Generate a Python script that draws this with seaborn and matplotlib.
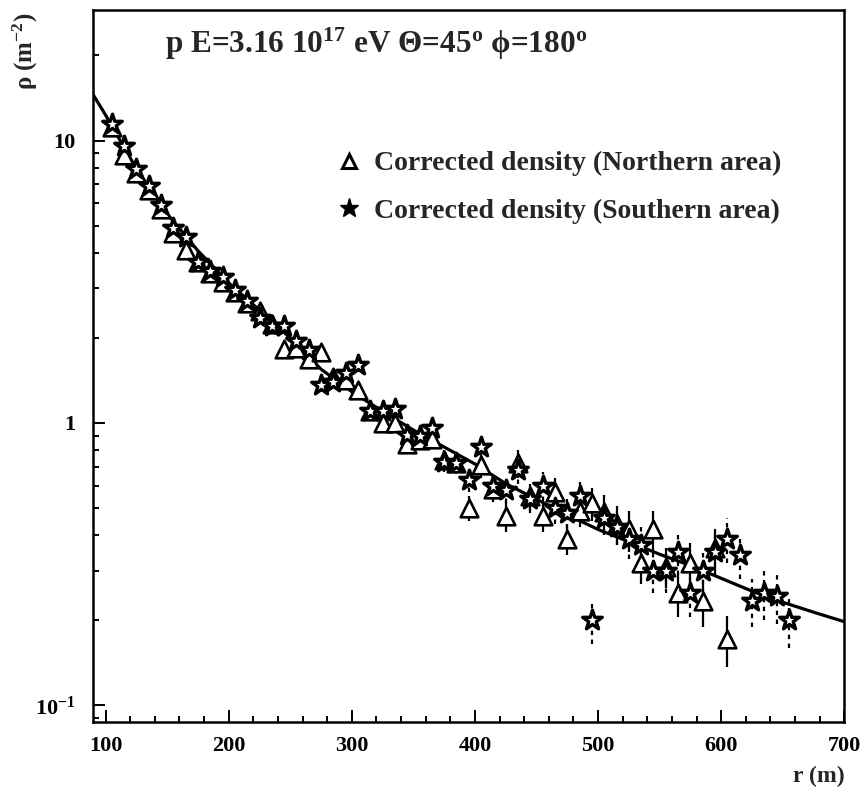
import numpy as np
import pandas as pd
import matplotlib
matplotlib.use("Agg")
import matplotlib.pyplot as plt
import seaborn as sns
from matplotlib.lines import Line2D
from matplotlib.ticker import FixedLocator, FixedFormatter, LogLocator, MultipleLocator, NullFormatter

# ---------------- data ----------------
north_r = [105, 115, 125, 135, 145, 155, 165, 175, 185, 195, 205, 215, 225, 235, 245,
           255, 265, 275, 285, 295, 305, 315, 325, 335, 345, 355, 365, 375, 385, 395,
           405, 415, 425, 435, 445, 455, 465, 475, 485, 495, 505, 515, 525, 535, 545,
           555, 565, 575, 585, 595, 605]
north_rho = [11.2, 8.9, 7.7, 6.7, 5.7, 4.7, 4.1, 3.7, 3.4, 3.15, 2.9, 2.65, 2.5, 2.25, 1.83,
             1.85, 1.68, 1.79, 1.45, 1.42, 1.31, 1.10, 1.00, 1.00, 0.84, 0.87, 0.88, 0.74, 0.72, 0.50,
             0.71, 0.585, 0.47, 0.72, 0.55, 0.47, 0.57, 0.39, 0.49, 0.52, 0.485, 0.44, 0.42, 0.32, 0.42,
             0.31, 0.25, 0.32, 0.234, 0.36, 0.172]
north_err = [0.3, 0.25, 0.2, 0.18, 0.16, 0.14, 0.12, 0.12, 0.11, 0.1, 0.1, 0.09, 0.09, 0.09, 0.08,
             0.08, 0.08, 0.08, 0.07, 0.07, 0.07, 0.07, 0.06, 0.07, 0.06, 0.06, 0.06, 0.06, 0.06, 0.05,
             0.07, 0.06, 0.06, 0.08, 0.06, 0.06, 0.07, 0.05, 0.06, 0.07, 0.07, 0.07, 0.07, 0.05, 0.07,
             0.05, 0.045, 0.055, 0.045, 0.06, 0.035]

south_r = [105, 115, 125, 135, 145, 155, 165, 175, 185, 195, 205, 215, 225, 235, 245,
           255, 265, 275, 285, 295, 305, 315, 325, 335, 345, 355, 365, 375, 385, 395,
           405, 415, 425, 435, 445, 455, 465, 475, 485, 495, 505, 515, 525, 535, 545,
           555, 565, 575, 585, 595, 605, 615, 625, 635, 645, 655]
south_rho = [11.4, 9.6, 7.9, 6.9, 5.9, 4.9, 4.55, 3.7, 3.45, 3.3, 2.95, 2.7, 2.35, 2.2, 2.2,
             1.95, 1.82, 1.36, 1.40, 1.5, 1.6, 1.1, 1.1, 1.12, 0.91, 0.9, 0.96, 0.73, 0.72, 0.63,
             0.82, 0.6, 0.58, 0.68, 0.54, 0.60, 0.5, 0.48, 0.55, 0.20, 0.46, 0.43, 0.39, 0.37, 0.30,
             0.30, 0.35, 0.25, 0.30, 0.35, 0.39, 0.34, 0.235, 0.25, 0.245, 0.20]
south_err = [0.3, 0.25, 0.2, 0.18, 0.16, 0.14, 0.12, 0.11, 0.11, 0.1, 0.1, 0.09, 0.09, 0.09, 0.09,
             0.08, 0.08, 0.07, 0.07, 0.08, 0.08, 0.07, 0.07, 0.07, 0.06, 0.06, 0.07, 0.06, 0.06, 0.06,
             0.08, 0.06, 0.06, 0.07, 0.06, 0.07, 0.06, 0.06, 0.07, 0.035, 0.06, 0.06, 0.06, 0.06, 0.05,
             0.05, 0.06, 0.045, 0.05, 0.06, 0.07, 0.06, 0.045, 0.05, 0.05, 0.04]

fit_r = [90, 100, 125, 150, 175, 200, 225, 250, 275, 300, 325, 350, 375, 400, 425,
         450, 475, 500, 525, 550, 575, 600, 625, 650, 675, 700]
fit_rho = [14.5, 12.3, 7.94, 5.50, 4.07, 3.13, 2.51, 2.0, 1.55, 1.29, 1.10, 0.944, 0.822, 0.716, 0.610,
           0.537, 0.473, 0.420, 0.380, 0.343, 0.313, 0.282, 0.254, 0.232, 0.214, 0.198]

x_ticks = [100, 200, 300, 400, 500, 600, 700]
y_ticks = [0.1, 1, 10]
y_tick_labels = [r"$\mathregular{10^{-1}}$", "1", "10"]

title = r"p E=3.16 10$^{\mathregular{17}}$ eV Θ=45$^{\mathregular{o}}$ ϕ=180$^{\mathregular{o}}$"
legend_labels = ["Corrected density (Northern area)", "Corrected density (Southern area)"]

# ---------------- style ----------------
sns.set_theme(style="white")
plt.rcParams["font.family"] = ["Liberation Serif", "DejaVu Serif"]
plt.rcParams["font.weight"] = "bold"
plt.rcParams["mathtext.fontset"] = "custom"
plt.rcParams["mathtext.rm"] = "Liberation Serif:bold"
plt.rcParams["mathtext.it"] = "Liberation Serif:bold"
plt.rcParams["mathtext.bf"] = "Liberation Serif:bold"

W, H = 867, 793
fig = plt.figure(figsize=(W / 100, H / 100), dpi=100)
left, right, top, bottom = 93.3, 844.3, 10.3, 722.3
ax = fig.add_axes([left / W, 1 - bottom / H, (right - left) / W, (bottom - top) / H])

north = pd.DataFrame({"r": north_r, "rho": north_rho, "err": north_err})
south = pd.DataFrame({"r": south_r, "rho": south_rho, "err": south_err})
fit = pd.DataFrame({"r": fit_r, "rho": fit_rho})

# error bars
ax.errorbar(north["r"], north["rho"], yerr=north["err"], fmt="none", ecolor="black",
            elinewidth=1.6, capsize=0, zorder=2)
eb = ax.errorbar(south["r"], south["rho"], yerr=south["err"], fmt="none", ecolor="black",
                 elinewidth=1.6, capsize=0, zorder=2)
for lc in eb.lines[2]:
    lc.set_linestyle((0, (2, 2)))

sns.lineplot(data=fit, x="r", y="rho", ax=ax, color="black", linewidth=2.3, zorder=3,
             estimator=None, sort=False)
sns.scatterplot(data=north, x="r", y="rho", ax=ax, marker="^", s=160,
                facecolor="white", edgecolor="black", linewidth=1.9, zorder=4)
sns.scatterplot(data=south, x="r", y="rho", ax=ax, marker="*", s=220,
                facecolor="white", edgecolor="black", linewidth=2.4, zorder=5)

ax.set_yscale("log")
ax.set_xlim(90, 700)
ax.set_ylim(0.0872, 28.9)

ax.xaxis.set_major_locator(FixedLocator(x_ticks))
ax.xaxis.set_minor_locator(MultipleLocator(20))
ax.yaxis.set_major_locator(FixedLocator(y_ticks))
ax.yaxis.set_major_formatter(FixedFormatter(y_tick_labels))
ax.yaxis.set_minor_locator(LogLocator(base=10, subs=range(2, 10)))
ax.yaxis.set_minor_formatter(NullFormatter())

ax.tick_params(which="both", direction="in", left=True, bottom=True, top=False, right=False,
               width=1.4, color="black", labelsize=16, labelcolor="black")
ax.tick_params(axis="y", which="major", length=8.5, pad=13)
ax.tick_params(axis="x", which="major", length=8.5, pad=10)
ax.tick_params(which="minor", length=4)
for lab in ax.get_xticklabels() + ax.get_yticklabels():
    lab.set_fontweight("bold")

for sp in ax.spines.values():
    sp.set_color("black")
    sp.set_linewidth(1.8)

ax.set_xlabel("")
ax.set_ylabel("")
fig.text(845 / W, 1 - 776 / H, "r (m)", ha="right", va="center", fontsize=17, fontweight="bold")
fig.text(25 / W, 1 - 12 / H, r"ρ (m$^{\mathregular{-2}}$)", ha="center", va="top", rotation=90,
         fontsize=18, fontweight="bold")
fig.text(165 / W, 1 - 44 / H, title, ha="left", va="center", fontsize=22.5, fontweight="bold")

handles = [
    Line2D([], [], marker="^", ls="none", mfc="white", mec="black", ms=10, mew=2.2),
    Line2D([], [], marker="*", ls="none", mfc="black", mec="black", ms=14, mew=1.0),
]
leg = ax.legend(handles, legend_labels, loc="upper left",
                bbox_to_anchor=(338 / W, 1 - 151 / H), bbox_transform=fig.transFigure,
                frameon=False, fontsize=20, handlelength=0.8, handletextpad=0.5,
                labelspacing=0.78, borderpad=0, borderaxespad=0)
for t in leg.get_texts():
    t.set_fontweight("bold")

fig.savefig("out.png", dpi=100)
